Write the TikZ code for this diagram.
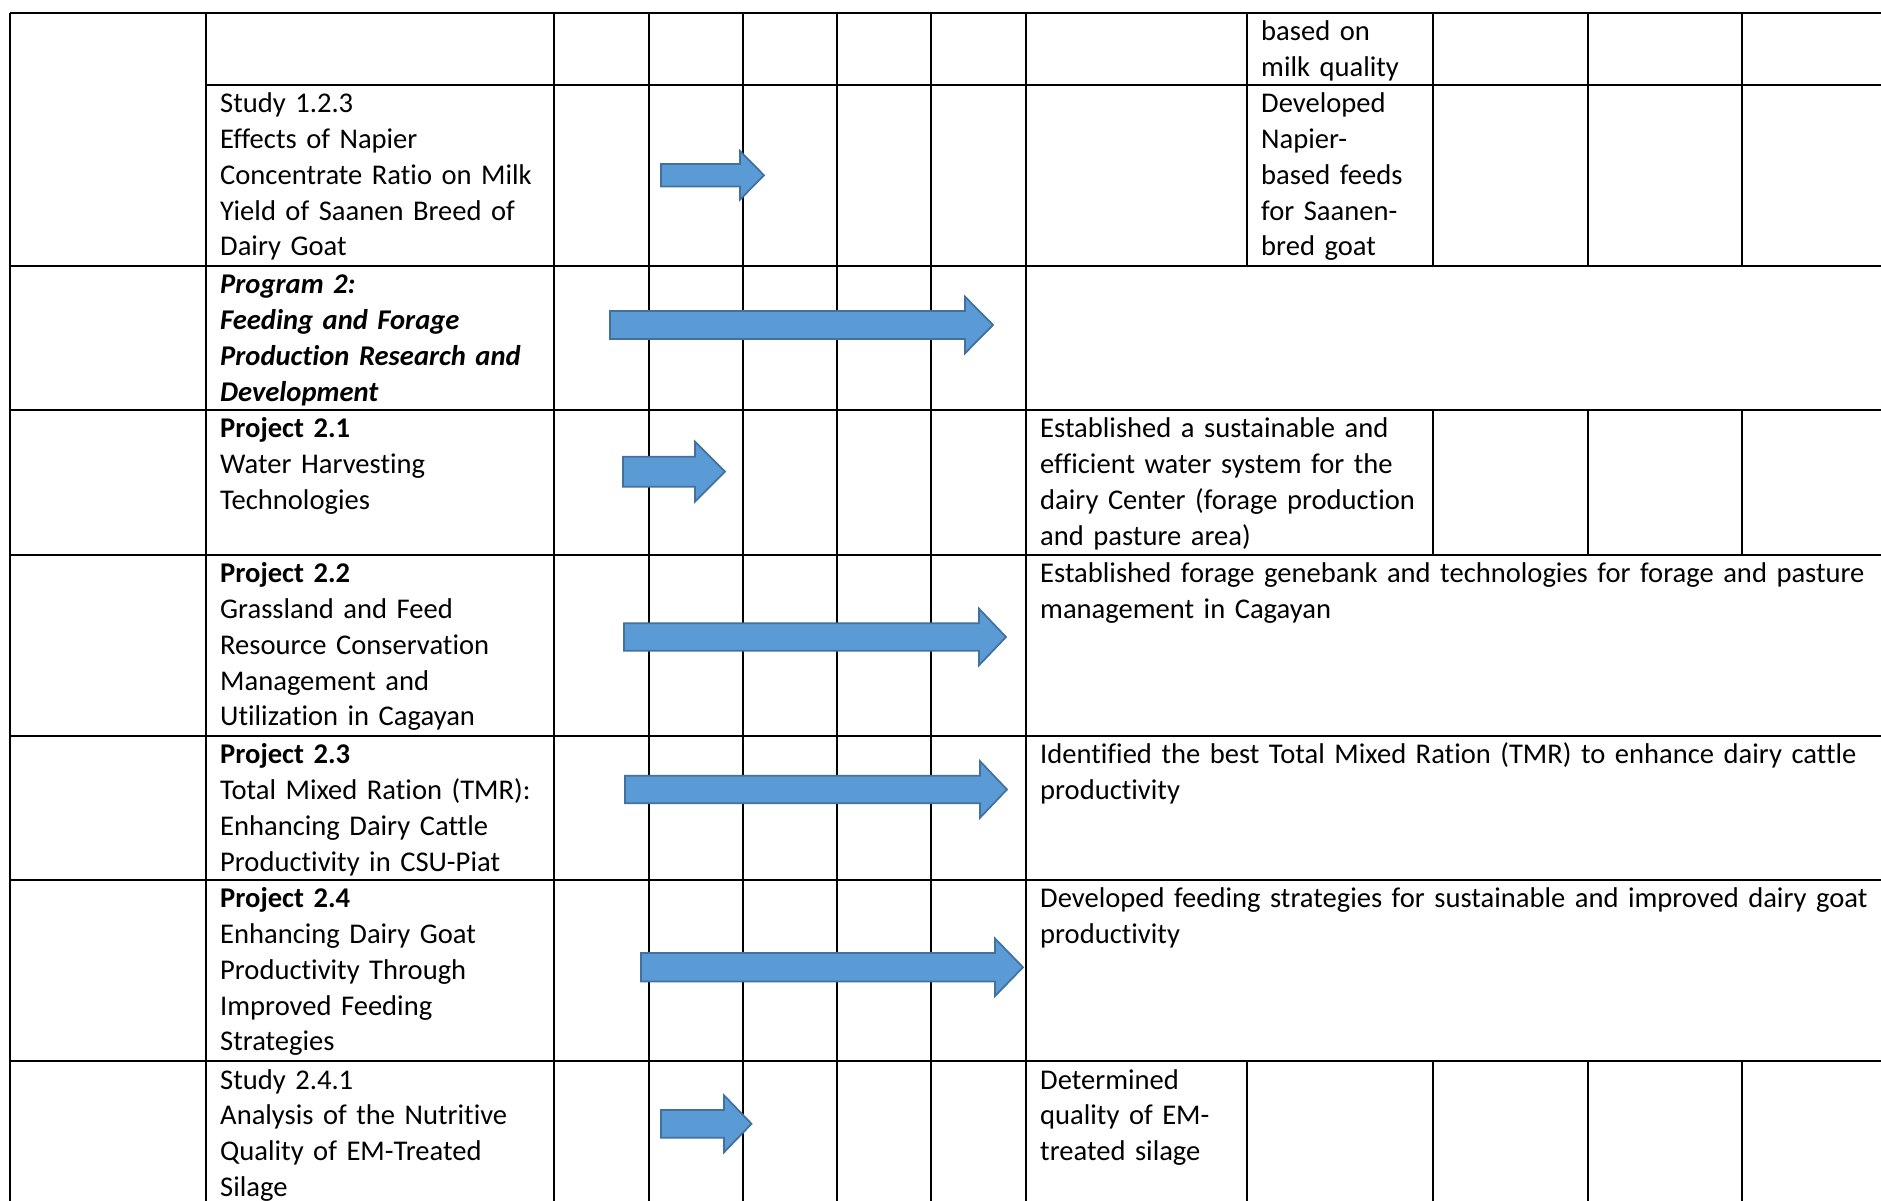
\documentclass[tikz,border=0pt]{standalone}
\usepackage{fontspec}
\setmainfont{Carlito}[Ligatures=NoCommon]
\definecolor{barfill}{HTML}{5B9BD5}
\definecolor{barline}{HTML}{41719C}
\newcommand{\cellfont}{\fontsize{8.13}{10.16}\selectfont}
% block arrow: start x, tip x, centre y, head length, shaft half width, head half width
\newcommand{\ganttbar}[6]{%
  \filldraw[bar] (#1,#3+#5) -- (#2-#4,#3+#5) -- (#2-#4,#3+#6) -- (#2,#3)
    -- (#2-#4,#3-#6) -- (#2-#4,#3-#5) -- (#1,#3-#5) -- cycle;}

\begin{document}
\begin{tikzpicture}[x=1cm,y=1cm,
  % table rules and cell text (first baseline 0.28cm under the rule)
  rule/.style={line width=0.6pt},
  cell/.style={anchor=base west, inner sep=0pt, align=left, text width=#1,
               font=\cellfont},
  cell/.default=3.4cm,
  bar/.style={fill=barfill, draw=barline, line width=0.5pt, line join=miter},
  ]
  \path[use as bounding box, fill=white] (0,0) rectangle (18.81,12);
  \clip (0,0) rectangle (18.81,12);
  % ---- horizontal rules (the table runs on past the right and bottom edge) -------
  \draw[rule] (0.10,11.87) -- (18.9,11.87);
  \draw[rule] (2.06,11.15) -- (18.9,11.15);
  \foreach \y in {9.34,7.90,6.45,4.64,3.20,1.39}
    \draw[rule] (0.10,\y) -- (18.9,\y);
  % ---- vertical rules: full height ------------------------------------------------
  \foreach \x in {0.10,2.06,5.54,6.49,7.43,8.37,9.31,10.26}
    \draw[rule] (\x,11.87) -- (\x,-0.1);
  % ---- vertical rules: only where the output cell is split -----------------------
  \draw[rule] (12.47,11.87) -- (12.47,9.34);
  \draw[rule] (12.47,1.39)  -- (12.47,-0.1);
  \foreach \x in {14.33,15.88,17.42} {
    \draw[rule] (\x,11.87) -- (\x,9.34);
    \draw[rule] (\x,7.90)  -- (\x,6.45);
    \draw[rule] (\x,1.39)  -- (\x,-0.1);
  }
  % ---- activity column ------------------------------------------------------------
  \node[cell] (s123) at (2.195,10.87) {Study 1.2.3\\ Effects of Napier\\
    Concentrate Ratio on Milk\\ Yield of Saanen Breed of\\ Dairy Goat};
  \node[cell, font=\cellfont\bfseries\itshape] (p2) at (2.195,9.06)
    {Program 2:\\ Feeding and Forage\\ Production Research and\\ Development};
  \node[cell] (p21) at (2.195,7.62) {\textbf{Project 2.1}\\ Water Harvesting\\ Technologies};
  \node[cell] (p22) at (2.195,6.17) {\textbf{Project 2.2}\\ Grassland and Feed\\
    Resource Conservation\\ Management and\\ Utilization in Cagayan};
  \node[cell] (p23) at (2.195,4.36) {\textbf{Project 2.3}\\ Total Mixed Ration (TMR):\\
    Enhancing Dairy Cattle\\ Productivity in CSU-Piat};
  \node[cell] (p24) at (2.195,2.92) {\textbf{Project 2.4}\\ Enhancing Dairy Goat\\
    Productivity Through\\ Improved Feeding\\ Strategies};
  \node[cell] (s241) at (2.195,1.11) {Study 2.4.1\\ Analysis of the Nutritive\\
    Quality of EM-Treated\\ Silage};
  % ---- expected outputs -----------------------------------------------------------
  \node[cell=1.8cm] (o122) at (12.605,11.59) {based on\\ milk quality};
  \node[cell=1.8cm] (o123) at (12.605,10.87) {Developed\\ Napier-\\ based feeds\\
    for Saanen-\\ bred goat};
  \node[cell=4.2cm] (o21) at (10.395,7.62) {Established a sustainable and\\
    efficient water system for the\\ dairy Center (forage production\\ and pasture area)};
  \node[cell=9cm] (o22) at (10.395,6.17)
    {Established forage genebank and technologies for forage and pasture\\ management in Cagayan};
  \node[cell=9cm] (o23) at (10.395,4.36)
    {Identified the best Total Mixed Ration (TMR) to enhance dairy cattle\\ productivity};
  \node[cell=9cm] (o24) at (10.395,2.92)
    {Developed feeding strategies for sustainable and improved dairy goat\\ productivity};
  \node[cell=2cm] (o241) at (10.395,1.11) {Determined\\ quality of EM-\\ treated silage};
  % ---- schedule bars --------------------------------------------------------------
  \ganttbar{6.61}{7.64}{10.247}{0.24}{0.113}{0.243}
  \ganttbar{6.10}{9.93}{8.75}{0.28}{0.14}{0.283}
  \ganttbar{6.23}{7.25}{7.283}{0.30}{0.15}{0.30}
  \ganttbar{6.24}{10.06}{5.63}{0.27}{0.137}{0.283}
  \ganttbar{6.25}{10.07}{4.105}{0.27}{0.138}{0.283}
  \ganttbar{6.41}{10.23}{2.327}{0.28}{0.143}{0.288}
  \ganttbar{6.61}{7.515}{0.762}{0.275}{0.139}{0.285}
\end{tikzpicture}
\end{document}
